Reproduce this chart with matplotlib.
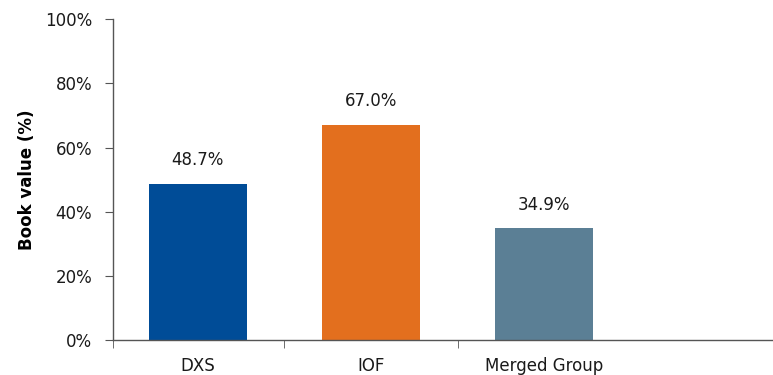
import matplotlib.pyplot as plt
from matplotlib.ticker import FuncFormatter

categories = ['DXS', 'IOF', 'Merged Group']
book_value = [48.7, 67.0, 34.9]
bar_colors = ['#004C97', '#E36F1E', '#5B7F95']


def draw_chart():
    fig = plt.figure(figsize=(7.73, 3.75), dpi=100)
    ax = fig.add_axes([0.146, 0.093, 0.854, 0.856])

    x = range(len(categories))
    ax.bar(x, book_value, width=0.565, color=bar_colors, zorder=2)

    for xi, v in zip(x, book_value):
        ax.annotate(f'{v:.1f}%', (xi, v), xytext=(0, 10.5), textcoords='offset points',
                    ha='center', va='bottom', fontsize=12, color='#1a1a1a')

    ax.set_xlim(-0.49, 3.32)
    ax.set_ylim(0, 100)
    ax.set_yticks(range(0, 101, 20))
    ax.yaxis.set_major_formatter(FuncFormatter(lambda v, p: f'{v:.0f}%'))

    ax.set_xticks(list(x))
    ax.set_xticklabels(categories)
    ax.tick_params(axis='x', which='major', length=0, pad=12)
    ax.set_xticks([-0.49, 0.5, 1.5], minor=True)
    ax.tick_params(axis='x', which='minor', length=6, direction='out', color='#555555')
    ax.tick_params(axis='y', length=6, direction='out', color='#555555', pad=9)
    ax.tick_params(labelsize=12, labelcolor='#1a1a1a')

    ax.set_ylabel('Book value (%)', fontsize=12, fontweight='bold', labelpad=6)

    for s in ['top', 'right']:
        ax.spines[s].set_visible(False)
    for s in ['left', 'bottom']:
        ax.spines[s].set_color('#555555')
        ax.spines[s].set_linewidth(1.0)

    fig.savefig('out.png', dpi=100)


if __name__ == '__main__':
    draw_chart()
